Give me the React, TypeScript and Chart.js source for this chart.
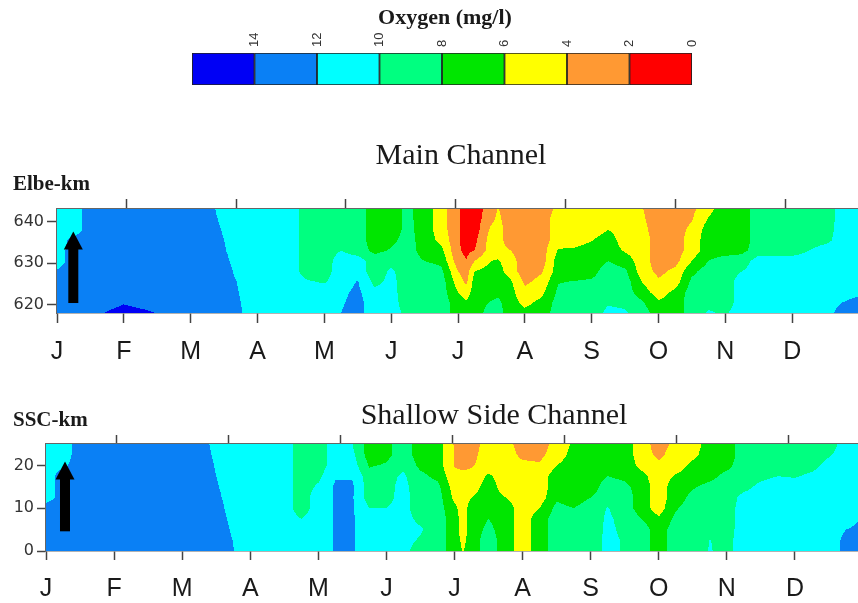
import React, { useEffect, useRef } from "react";
import { Chart, registerables } from "chart.js";

Chart.register(...registerables);

// ---------- tick labels / axes ----------
const monthLabels = ["J", "F", "M", "A", "M", "J", "J", "A", "S", "O", "N", "D"];
const monthTickValues = [0, 1, 2, 3, 4, 5, 6, 7, 8, 9, 10, 11];
const topTickDays = [31.5, 81.5, 131.5, 181.5, 231.5, 281.5, 331.5];
const daysPerMonth = 365 / 12;
const mainYTicks = [620, 630, 640];
const sscYTicks = [0, 10, 20];

// ---------- grid coordinates (months since 1 Jan, km) ----------
const mainTimes = [
  0, 0.25, 0.5, 0.75, 1, 1.25, 1.5, 1.75, 2, 2.25, 2.5, 2.75, 3, 3.25, 3.5, 3.75,
  4, 4.25, 4.5, 4.75, 5, 5.25, 5.5, 5.75, 6, 6.125, 6.25, 6.5, 6.6, 6.75, 7, 7.25, 7.5, 7.75,
  8, 8.25, 8.5, 8.75, 9, 9.25, 9.5, 9.75, 10, 10.25, 10.5, 10.75, 11, 11.25, 11.5, 11.75, 12,
];
const sscTimes = [
  0, 0.25, 0.5, 0.75, 1, 1.25, 1.5, 1.75, 2, 2.25, 2.5, 2.75, 3, 3.25, 3.5, 3.75,
  4, 4.25, 4.5, 4.75, 5, 5.25, 5.5, 5.75, 6, 6.125, 6.25, 6.5, 6.75, 7, 7.25, 7.5, 7.75,
  8, 8.25, 8.5, 8.75, 9, 9.25, 9.5, 9.75, 10, 10.25, 10.5, 10.75, 11, 11.25, 11.5, 11.75, 12,
];
const mainKm = [618, 620.5, 623, 625.5, 628, 630.5, 633, 635.5, 638, 640.5, 643];
const sscKm = [0, 2.5, 5, 7.5, 10, 12.5, 15, 17.5, 20, 22.5, 25];

// ---------- oxygen (mg/l), one column per time node, values bottom -> top ----------
const mainO2 = [
  [13, 13, 13, 13, 12.2, 11, 11, 11, 11, 11, 11],
  [13, 13, 13, 13, 13, 13, 13, 12.6, 11, 11, 11],
  [13, 13, 13, 13, 13, 13, 13, 13, 13, 13, 13],
  [14.2, 13, 13, 13, 13, 13, 13, 13, 13, 13, 13],
  [15, 13.8, 13, 13, 13, 13, 13, 13, 13, 13, 13],
  [14.6, 13.2, 13, 13, 13, 13, 13, 13, 13, 13, 13],
  [13.9, 13, 13, 13, 13, 13, 13, 13, 13, 13, 13],
  [13, 13, 13, 13, 13, 13, 13, 13, 13, 13, 13],
  [13, 13, 13, 13, 13, 13, 13, 13, 13, 13, 13],
  [13, 13, 13, 13, 13, 13, 13, 13, 13, 13, 13],
  [13, 13, 13, 13, 13, 12.47, 12.14, 12, 11.8, 11.4, 10.9],
  [12.1, 12, 11.86, 11.68, 11.08, 11, 11, 11, 11, 11, 11],
  [11, 11, 11, 11, 11, 11, 11, 11, 11, 11, 11],
  [11, 11, 11, 11, 11, 11, 11, 11, 11, 11, 11],
  [11, 11, 11, 11, 11, 11, 11, 11, 11, 11, 11],
  [11, 11, 11, 10.2, 9, 9, 9, 9, 9, 9, 9],
  [11, 11, 11, 9.8, 9.2, 9, 9, 9, 9, 9, 9],
  [12, 11.8, 11.6, 11.2, 11, 11, 10, 9, 9, 9, 9],
  [12.8, 12.6, 12.4, 12.1, 11, 11, 9, 9, 9, 9, 9],
  [10.8, 11, 10.5, 9.5, 9, 9, 7.5, 7, 7, 7, 7],
  [10.8, 10.8, 10.6, 10.5, 10.3, 9.5, 8.2, 7.5, 7, 7, 7],
  [9.5, 9, 9, 9, 9, 9, 9, 8.8, 8.6, 8.5, 8.5],
  [9.6, 9, 9, 9, 9, 8, 7, 7, 7, 7, 7],
  [9, 9, 9, 9, 8.5, 7.5, 6.5, 5.5, 5, 5, 5],
  [7, 7, 6, 5, 4, 2.8, 2.3, 2.3, 2.3, 2.3, 2.3],
  [7, 6.3, 5, 3.6, 3, 2.1, 1.5, 1, 1, 1, 1],
  [7, 7, 7, 7, 6, 4, 2.05, 1.5, 1, 1, 1],
  [9, 8.2, 7, 7, 7, 6, 5, 5, 4.5, 3.5, 3],
  [9, 8.5, 7.5, 7, 7, 6.2, 5, 5, 5, 4.5, 4.1],
  [7, 7, 7, 6.8, 5.2, 5, 4.2, 3, 3, 3, 3],
  [6.5, 5.5, 4.6, 3.6, 3, 3, 3, 3, 3, 3, 3],
  [7, 6.5, 5.5, 4.6, 3.8, 3, 3, 3, 3, 3, 3],
  [9, 8.8, 8.4, 7.9, 7, 7, 6.2, 5, 5, 5, 4.4],
  [9, 9, 8.5, 8.1, 7, 7, 6.4, 5, 5, 5, 5],
  [9, 9, 9, 8.3, 7.3, 7, 7, 5.9, 5, 5, 5],
  [10.5, 9.8, 9, 9, 9, 8, 7, 7, 6, 5, 5],
  [10.3, 9.5, 9, 9, 8.4, 7, 5.8, 5, 5, 5, 5],
  [9, 8.3, 7, 6, 5, 5, 5, 5, 4.6, 4.3, 4.1],
  [7, 6.3, 5, 4.3, 3.5, 3, 3, 3, 3, 3, 3],
  [7, 7, 6.5, 5, 4.5, 3.3, 3, 3, 3, 3, 3],
  [9, 9, 9, 8.5, 7.5, 6, 5, 5, 4.5, 3.9, 3.5],
  [10.2, 9.5, 9, 9, 9, 8, 7, 7, 7, 6.2, 5.5],
  [9.8, 9, 9, 9, 9, 9, 7, 7, 7, 7, 7],
  [11, 11, 11, 11, 10, 9, 7.5, 7, 7, 7, 7],
  [11, 11, 11, 11, 11, 11, 9, 9, 9, 9, 9],
  [11, 11, 11, 11, 11, 11, 9, 9, 9, 9, 9],
  [11, 11, 11, 11, 11, 11, 9, 9, 9, 9, 9],
  [11, 11, 11, 11, 11, 11, 10, 9, 9, 9, 9],
  [11, 11, 11, 11, 11, 11, 11, 9.4, 9, 8.8, 8.6],
  [13, 12, 11, 11, 11, 11, 11, 11, 11, 11, 11],
  [13, 12.8, 11.5, 11, 11, 11, 11, 11, 11, 11, 11],
];

const sscO2 = [
  [13, 13, 13, 13, 13, 11, 11, 11, 11, 11, 11],
  [13, 13, 13, 13, 13, 13, 13, 13, 11.6, 11, 11],
  [13, 13, 13, 13, 13, 13, 13, 13, 13, 13, 13],
  [13, 13, 13, 13, 13, 13, 13, 13, 13, 13, 13],
  [13, 13, 13, 13, 13, 13, 13, 13, 13, 13, 13],
  [13, 13, 13, 13, 13, 13, 13, 13, 13, 13, 13],
  [13, 13, 13, 13, 13, 13, 13, 13, 13, 13, 13],
  [13, 13, 13, 13, 13, 13, 13, 13, 13, 13, 13],
  [13, 13, 13, 13, 13, 13, 13, 13, 13, 13, 13],
  [13, 13, 13, 13, 13, 13, 13, 13, 13, 13, 13],
  [13, 13, 13, 13, 12.92, 12.47, 12.19, 12, 11.86, 11.61, 11.33],
  [12.05, 11.96, 11.75, 11.44, 11, 11, 11, 11, 11, 11, 11],
  [11, 11, 11, 11, 11, 11, 11, 11, 11, 11, 11],
  [11, 11, 11, 11, 11, 11, 11, 11, 11, 11, 11],
  [11, 11, 11, 11, 11, 11, 11, 11, 11, 11, 11],
  [11, 11, 11, 10, 9, 9, 9, 9, 9, 9, 9],
  [11, 11, 11, 11, 11, 11, 10.3, 9.5, 9, 9, 9],
  [12.2, 12.2, 12.2, 12.2, 12.2, 12.2, 12.3, 11.8, 11, 11, 11],
  [12.2, 12.2, 12.2, 12.2, 12.2, 12.2, 12.3, 11.8, 11, 10.5, 10],
  [11, 11, 11, 11, 10, 9, 9, 8.8, 7.8, 7, 7],
  [10.5, 10.5, 10.5, 10.3, 10, 9.5, 9.5, 9.4, 8.2, 7.5, 7.5],
  [10.6, 10.6, 10.6, 10.6, 10.6, 10.6, 10.5, 10.3, 9.6, 9, 9],
  [9, 9.8, 10.2, 9.6, 9, 9, 9, 8.5, 7.5, 7, 7],
  [9, 9, 9, 9, 9, 9, 8.6, 7.5, 7, 7, 7],
  [7, 7, 7, 7, 6.5, 5.5, 5, 4.5, 3.9, 3.9, 3.8],
  [5.9, 5.5, 5, 5, 5, 5, 5, 4.6, 3.5, 3, 3],
  [7, 7, 7, 7, 7, 6, 5, 4.6, 3.8, 3.4, 3],
  [9, 9, 8.5, 8, 7, 7, 7, 6.3, 5, 5, 5],
  [7, 7, 7, 7, 7, 6, 5, 5, 5, 5, 4.8],
  [5, 5, 5, 5, 5, 5, 5, 5, 4.5, 3.5, 3],
  [7, 7, 7, 7, 6, 5, 5, 5, 4.2, 3.5, 3],
  [9, 9, 9, 9, 8.6, 7.6, 7, 7, 6, 5, 4.8],
  [9, 9, 9, 9, 8, 7, 7, 7, 7, 6.7, 6.3],
  [9, 9, 9, 9, 9, 8, 7, 7, 7, 7, 7],
  [10.5, 10.5, 10.4, 10.3, 10.1, 9, 9, 8, 7, 7, 7],
  [9.8, 9.8, 9.6, 9.4, 9, 9, 8.5, 7.5, 7, 7, 7],
  [9, 9, 9, 8, 7, 7, 7, 6.5, 5.5, 5, 5],
  [7, 7, 7, 6.3, 5, 5, 5, 5, 4.5, 3.5, 3],
  [9, 9, 9, 8.5, 7.8, 7, 7, 6.2, 5, 5, 4.6],
  [9, 9, 9, 9, 9, 8.6, 7.8, 7, 6.5, 5.5, 5],
  [10.1, 10.05, 9.5, 9, 9, 9, 8.5, 7.5, 7, 7, 7],
  [9.5, 9.4, 9.2, 9, 9, 9, 9, 8.5, 7.5, 7, 7],
  [11, 11, 11, 11, 11, 10.6, 9.4, 9, 9, 9, 9],
  [11, 11, 11, 11, 11, 11, 10.5, 9.5, 9, 9, 9],
  [11, 11, 11, 11, 11, 11, 11, 10, 9, 9, 9],
  [11, 11, 11, 11, 11, 11, 11, 9.8, 9, 9, 9],
  [11, 11, 11, 11, 11, 11, 11, 10.4, 9.4, 9, 9],
  [11, 11, 11, 11, 11, 11, 11, 11, 10.6, 9.8, 9],
  [12.6, 12.5, 12, 11, 11, 11, 11, 11, 11, 11, 11],
  [13, 13, 12.6, 12.2, 11.4, 11, 11, 11, 11, 11, 11],
];

// ---------- colour classes ----------
const o2ClassEdges = [0, 2, 4, 6, 8, 10, 12, 14, 16];
const o2Colors = ["#ff0000", "#ff9933", "#ffff00", "#00e600", "#00ff80", "#00ffff", "#0a80f5", "#0000f5"];
const colorbarLabels = ["0", "2", "4", "6", "8", "10", "12", "14"];

// ---------- arrow annotations (month, km) ----------
const mainArrow = { month: 0.244, fromY: 620.4, toY: 637.6 };
const sscArrow = { month: 0.279, fromY: 4.6, toY: 20.9 };

const SANS = '"Liberation Sans", Arial, sans-serif';
const SERIF = '"Liberation Serif", "Times New Roman", serif';
const NUMF = '"DejaVu Sans", sans-serif';

function hexRgb(h: string) {
  return [parseInt(h.slice(1, 3), 16), parseInt(h.slice(3, 5), 16), parseInt(h.slice(5, 7), 16)];
}

function contourPlugin(xs: number[], ys: number[], grid: number[][]) {
  return {
    id: "contour",
    beforeDatasetsDraw(chart: any) {
      const { ctx, chartArea } = chart;
      const xScale = chart.scales.x;
      const yScale = chart.scales.y;
      const x0 = Math.round(chartArea.left);
      const x1 = Math.round(chartArea.right);
      const y0 = Math.round(chartArea.top);
      const y1 = Math.round(chartArea.bottom);
      const w = x1 - x0;
      const h = y1 - y0;
      const off = document.createElement("canvas");
      off.width = w;
      off.height = h;
      const octx = off.getContext("2d")!;
      const img = octx.createImageData(w, h);
      const rgb = o2Colors.map(hexRgb);
      const colK = new Int32Array(w);
      const colT = new Float64Array(w);
      for (let i = 0; i < w; i++) {
        const xv = xScale.getValueForPixel(x0 + i + 0.5);
        let k = 0;
        while (k < xs.length - 2 && xv > xs[k + 1]) k++;
        colK[i] = k;
        colT[i] = Math.min(1, Math.max(0, (xv - xs[k]) / (xs[k + 1] - xs[k])));
      }
      for (let j = 0; j < h; j++) {
        const yv = yScale.getValueForPixel(y0 + j + 0.5);
        let r = 0;
        while (r < ys.length - 2 && yv > ys[r + 1]) r++;
        const u = Math.min(1, Math.max(0, (yv - ys[r]) / (ys[r + 1] - ys[r])));
        for (let i = 0; i < w; i++) {
          const k = colK[i];
          const t = colT[i];
          const a = grid[k][r], b = grid[k + 1][r], c = grid[k][r + 1], d = grid[k + 1][r + 1];
          const v = (a * (1 - t) + b * t) * (1 - u) + (c * (1 - t) + d * t) * u;
          let cls = 0;
          while (cls < 7 && v >= o2ClassEdges[cls + 1]) cls++;
          const p = (j * w + i) * 4;
          img.data[p] = rgb[cls][0];
          img.data[p + 1] = rgb[cls][1];
          img.data[p + 2] = rgb[cls][2];
          img.data[p + 3] = 255;
        }
      }
      octx.putImageData(img, 0, 0);
      ctx.drawImage(off, x0, y0);
    },
  };
}

function arrowPlugin(arrow: { month: number; fromY: number; toY: number }) {
  return {
    id: "arrow",
    afterDatasetsDraw(chart: any) {
      const { ctx } = chart;
      const x = chart.scales.x.getPixelForValue(arrow.month);
      const yb = chart.scales.y.getPixelForValue(arrow.fromY);
      const yt = chart.scales.y.getPixelForValue(arrow.toY);
      const headLen = 18;
      const headHalf = 9.5;
      const shaftHalf = 5;
      ctx.save();
      ctx.fillStyle = "#000";
      ctx.fillRect(x - shaftHalf, yt + headLen - 1, shaftHalf * 2, yb - yt - headLen + 1);
      ctx.beginPath();
      ctx.moveTo(x, yt);
      ctx.lineTo(x + headHalf, yt + headLen);
      ctx.lineTo(x - headHalf, yt + headLen);
      ctx.closePath();
      ctx.fill();
      ctx.restore();
    },
  };
}

type TextItem = { text: string; x: number; y: number; font: string; align: CanvasTextAlign; color: string };

function textPlugin(items: TextItem[]) {
  return {
    id: "texts",
    afterDraw(chart: any) {
      const { ctx } = chart;
      ctx.save();
      ctx.textBaseline = "middle";
      for (const it of items) {
        ctx.font = it.font;
        ctx.fillStyle = it.color;
        ctx.textAlign = it.align;
        ctx.fillText(it.text, it.x, it.y);
      }
      ctx.restore();
    },
  };
}

type PanelSpec = {
  grid: number[][];
  xs: number[];
  ys: number[];
  yMin: number;
  yMax: number;
  yTicks: number[];
  arrow: { month: number; fromY: number; toY: number };
  yAxisWidth: number;
  topAxisH: number;
  bottomAxisH: number;
  tickLen: number;
  padding: { top: number; bottom: number; left: number; right: number };
  texts: TextItem[];
};

function panelConfig(p: PanelSpec): any {
  const tickGrid = { drawOnChartArea: false, drawTicks: true, tickLength: p.tickLen, tickColor: "#444", tickWidth: 1.5, color: "#444" };
  const border = { display: true, color: "#666", width: 1.5 };
  const nodes: { x: number; y: number; v: number }[] = [];
  p.xs.forEach((t, i) => p.ys.forEach((y, j) => nodes.push({ x: t, y, v: p.grid[i][j] })));
  return {
    type: "scatter",
    data: { datasets: [{ data: nodes, pointRadius: 0, showLine: false }] },
    options: {
      responsive: false,
      animation: false,
      events: [],
      layout: { padding: p.padding },
      plugins: { legend: { display: false }, tooltip: { enabled: false }, title: { display: false } },
      scales: {
        x: {
          type: "linear",
          position: "bottom",
          min: 0,
          max: 12,
          z: 1,
          afterBuildTicks: (s: any) => {
            s.ticks = monthTickValues.map((v) => ({ value: v }));
          },
          afterFit: (s: any) => {
            s.height = p.bottomAxisH;
          },
          ticks: {
            autoSkip: false,
            maxRotation: 0,
            minRotation: 0,
            padding: 14,
            color: "#1a1a1a",
            font: { family: SANS, size: 25 },
            callback: (v: any) => monthLabels[Math.round(Number(v))] ?? "",
          },
          grid: tickGrid,
          border,
        },
        x2: {
          type: "linear",
          position: "top",
          min: 0,
          max: 12,
          z: 1,
          afterBuildTicks: (s: any) => {
            s.ticks = topTickDays.map((d) => ({ value: d / daysPerMonth }));
          },
          afterFit: (s: any) => {
            s.height = p.topAxisH;
          },
          ticks: { display: false },
          grid: tickGrid,
          border,
        },
        y: {
          type: "linear",
          position: "left",
          min: p.yMin,
          max: p.yMax,
          z: 1,
          afterBuildTicks: (s: any) => {
            s.ticks = p.yTicks.map((v) => ({ value: v }));
          },
          afterFit: (s: any) => {
            s.width = p.yAxisWidth;
          },
          ticks: { padding: 3, color: "#333", font: { family: NUMF, size: 16 } },
          grid: tickGrid,
          border,
        },
      },
    },
    plugins: [contourPlugin(p.xs, p.ys, p.grid), arrowPlugin(p.arrow), textPlugin(p.texts)],
  };
}

function colorbarConfig(): any {
  const labelsPlugin = {
    id: "cbLabels",
    afterDraw(chart: any) {
      const { ctx, chartArea } = chart;
      const xs = chart.scales.x;
      ctx.save();
      ctx.font = `13px ${SANS}`;
      ctx.fillStyle = "#333";
      ctx.textAlign = "left";
      ctx.textBaseline = "middle";
      colorbarLabels.forEach((lab, i) => {
        const x = xs.getPixelForValue(o2ClassEdges[i]);
        ctx.save();
        ctx.translate(x, chartArea.top - 6);
        ctx.rotate(-Math.PI / 2);
        ctx.fillText(lab, 0, 0);
        ctx.restore();
      });
      ctx.restore();
    },
  };
  return {
    type: "bar",
    data: {
      labels: [""],
      datasets: o2Colors.map((c, i) => ({
        data: [[o2ClassEdges[i], o2ClassEdges[i + 1]]],
        backgroundColor: c,
        borderColor: "#222",
        borderWidth: 1.2,
        borderSkipped: false,
        barPercentage: 1,
        categoryPercentage: 1,
        grouped: false,
      })),
    },
    options: {
      indexAxis: "y",
      responsive: false,
      animation: false,
      events: [],
      layout: { padding: { left: 192, right: 166, top: 53, bottom: 15 } },
      plugins: { legend: { display: false }, tooltip: { enabled: false } },
      scales: {
        x: { type: "linear", min: 0, max: 16, reverse: true, display: false },
        y: { display: false },
      },
    },
    plugins: [
      labelsPlugin,
      textPlugin([{ text: "Oxygen (mg/l)", x: 445, y: 18, font: `bold 22px ${SERIF}`, align: "center", color: "#1a1a1a" }]),
    ],
  };
}

const mainSpec: PanelSpec = {
  grid: mainO2,
  xs: mainTimes,
  ys: mainKm,
  yMin: 618,
  yMax: 643,
  yTicks: mainYTicks,
  arrow: mainArrow,
  yAxisWidth: 57,
  topAxisH: 12,
  bottomAxisH: 50,
  tickLen: 10,
  padding: { top: 67, bottom: 7, left: 0, right: 11 },
  texts: [
    { text: "Main Channel", x: 461, y: 26, font: `30px ${SERIF}`, align: "center", color: "#1a1a1a" },
    { text: "Elbe-km", x: 13, y: 55, font: `bold 21px ${SERIF}`, align: "left", color: "#1a1a1a" },
  ],
};

const sscSpec: PanelSpec = {
  grid: sscO2,
  xs: sscTimes,
  ys: sscKm,
  yMin: 0,
  yMax: 25,
  yTicks: sscYTicks,
  arrow: sscArrow,
  yAxisWidth: 46,
  topAxisH: 10,
  bottomAxisH: 45,
  tickLen: 9,
  padding: { top: 44, bottom: 7, left: 0, right: 12 },
  texts: [
    { text: "Shallow Side Channel", x: 494, y: 26, font: `30px ${SERIF}`, align: "center", color: "#1a1a1a" },
    { text: "SSC-km", x: 13, y: 31, font: `bold 21px ${SERIF}`, align: "left", color: "#1a1a1a" },
  ],
};

function ChartCanvas(props: { left: number; top: number; width: number; height: number; make: () => any }) {
  const ref = useRef<HTMLCanvasElement>(null);
  useEffect(() => {
    const chart = new Chart(ref.current!, props.make());
    return () => chart.destroy();
  }, []);
  return (
    <canvas
      ref={ref}
      width={props.width}
      height={props.height}
      style={{ position: "absolute", left: props.left, top: props.top }}
    />
  );
}

export default function App() {
  return (
    <div
      style={{
        position: "absolute",
        left: 0,
        top: 0,
        width: 858,
        height: 603,
        overflow: "hidden",
        background: "#fff",
      }}
    >
      <ChartCanvas left={0} top={0} width={858} height={100} make={colorbarConfig} />
      <ChartCanvas left={0} top={130} width={870} height={240} make={() => panelConfig(mainSpec)} />
      <ChartCanvas left={0} top={390} width={875} height={213} make={() => panelConfig(sscSpec)} />
    </div>
  );
}
